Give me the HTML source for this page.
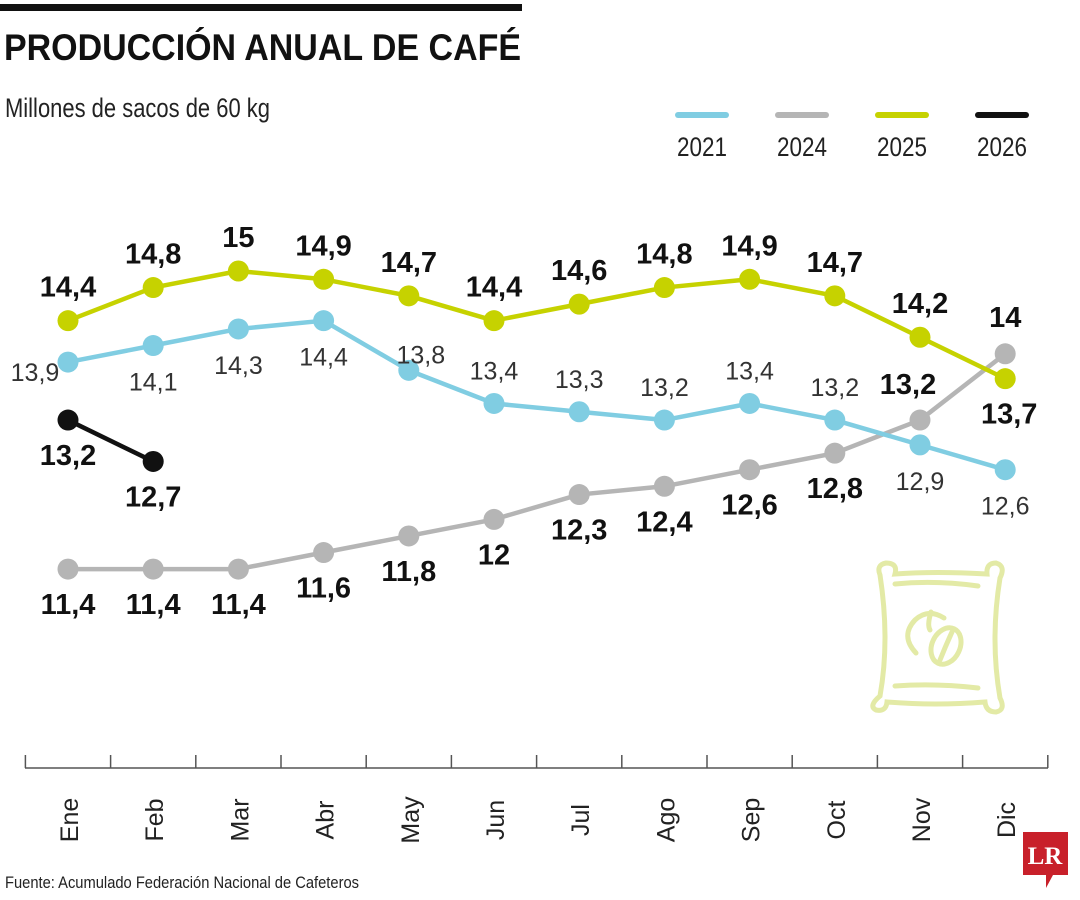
<!DOCTYPE html>
<html><head><meta charset="utf-8">
<style>
html,body{margin:0;padding:0;background:#fff;}
svg{display:block;font-family:"Liberation Sans Narrow","Liberation Sans",sans-serif;}
</style></head>
<body>
<svg id="chart" width="1080" height="900" viewBox="0 0 1080 900">
  <rect x="0" y="4" width="522" height="7" fill="#111"/>
  <text x="4" y="60" font-family="Liberation Sans" font-weight="bold" font-size="37" textLength="517" lengthAdjust="spacingAndGlyphs" fill="#111">PRODUCCIÓN ANUAL DE CAFÉ</text>
  <text x="5" y="117" font-size="27" textLength="265" lengthAdjust="spacingAndGlyphs" fill="#222">Millones de sacos de 60 kg</text>
  <g id="legend"></g>
  <g id="axis"></g>
  <g id="series"></g>
  <g fill="none" stroke="#e3eaa6" stroke-width="5" stroke-linecap="round">
    <path d="M880,575 Q876,565 886,563 Q898,563 895,574 Q935,571 987,574 Q986,563 996,563 Q1006,566 1000,578 Q990,640 1000,698 Q1006,710 996,712 Q986,712 985,702 Q935,706 887,702 Q886,712 876,710 Q868,706 880,696 Q890,640 880,575 Z"/>
    <path d="M895,584 Q935,580 978,586"/><path d="M895,686 Q935,683 978,688"/>
    <path d="M916,653 Q900,636 915,620 Q928,608 944,618"/>
    <ellipse cx="946" cy="646" rx="14" ry="19" transform="rotate(25 946 646)"/>
    <path d="M931,612 Q927,625 930,630"/><path d="M940,660 Q946,645 952,632"/>
  </g>
  <text x="5" y="888" font-size="17" textLength="354" lengthAdjust="spacingAndGlyphs" fill="#222">Fuente: Acumulado Federación Nacional de Cafeteros</text>
  <g>
    <path d="M1023,832 L1068,832 L1068,875 L1053,875 L1046,888 L1046,875 L1023,875 Z" fill="#c8202a"/>
    <text x="1045" y="864" text-anchor="middle" font-family="Liberation Serif" font-weight="bold" font-size="25" fill="#fff">LR</text>
  </g>
</svg>
<script>
const months = ["Ene","Feb","Mar","Abr","May","Jun","Jul","Ago","Sep","Oct","Nov","Dic"];
const years = ["2021","2024","2025","2026"];
const values2021 = [13.9,14.1,14.3,14.4,13.8,13.4,13.3,13.2,13.4,13.2,12.9,12.6];
const values2024 = [11.4,11.4,11.4,11.6,11.8,12,12.3,12.4,12.6,12.8,13.2,14];
const values2025 = [14.4,14.8,15,14.9,14.7,14.4,14.6,14.8,14.9,14.7,14.2,13.7];
const values2026 = [13.2,12.7];
const labels2021 = ["13,9","14,1","14,3","14,4","13,8","13,4","13,3","13,2","13,4","13,2","12,9","12,6"];
const labels2024 = ["11,4","11,4","11,4","11,6","11,8","12","12,3","12,4","12,6","12,8","13,2","14"];
const labels2025 = ["14,4","14,8","15","14,9","14,7","14,4","14,6","14,8","14,9","14,7","14,2","13,7"];
const labels2026 = ["13,2","12,7"];

const NS="http://www.w3.org/2000/svg";
const x = i => 68 + i*85.2;
const y = v => 271 + (15 - v)*82.8;
function mk(tag, attrs, parent){const e=document.createElementNS(NS,tag);for(const k in attrs)e.setAttribute(k,attrs[k]);parent.appendChild(e);return e;}

const axis=document.getElementById('axis');
const ax=mk('line',{x1:25,y1:768,x2:1048,y2:768,stroke:'#555','stroke-width':1.5},axis);


for(let i=0;i<=months.length;i++){
  const t=mk('line',{x1:x(i)-42.6,y1:755,x2:x(i)-42.6,y2:768,stroke:'#555','stroke-width':1.5},axis);
  
  
}
months.forEach((m,i)=>{
  const t=mk('text',{x:0,y:0,transform:`translate(${x(i)+10},820) rotate(-90)`,'text-anchor':'middle','font-size':25,fill:'#222'},axis);
  t.textContent=m;
  
  
});

const colors={"2021":"#80cde2","2024":"#b5b5b5","2025":"#c6d200","2026":"#111"};
const leg=document.getElementById('legend');
years.forEach((yr,i)=>{
  const lx=701+i*100;
  const l=mk('line',{x1:lx-23,y1:115,x2:lx+25,y2:115,stroke:colors[yr],'stroke-width':6,'stroke-linecap':'round'},leg);
  
  
  const t=mk('text',{x:lx+1,y:156,'text-anchor':'middle','font-size':27,fill:'#222',textLength:50,lengthAdjust:'spacingAndGlyphs'},leg);
  t.textContent=yr;
  
  
});

const A=[0,-33], B=[0,36];
const off2021=[[-33,10],B,B,B,[12,-16],A,A,A,A,A,B,B];
const off2024=[B,B,B,B,B,B,B,B,B,B,[-12,-35],[0,-36]];
const off2025=[A,A,A,A,A,A,A,A,A,A,A,[4,36]];
const off2026=[B,B];

const sg=document.getElementById('series');
function drawSeries(name,vals,labs,offs,bold){
  const g=mk('g',{},sg);
  
  
  const pts=vals.map((v,i)=>x(i)+','+y(v)).join(' ');
  const pl=mk('polyline',{points:pts,fill:'none',stroke:colors[name],'stroke-width':4.5,'stroke-linejoin':'round'},g);
  
  
  vals.forEach((v,i)=>{
    const c=mk('circle',{cx:x(i),cy:y(v),r:10.5,fill:colors[name]},g);
    
    
  });
  vals.forEach((v,i)=>{
    const o=offs[i];
    const t=mk('text',{x:x(i)+o[0],y:y(v)+o[1]+9,'text-anchor':'middle','font-size':bold?29:25,'font-weight':bold?'bold':'normal',fill:bold?'#111':'#333'},g);
    t.textContent=labs[i];
    
    
  });
}
drawSeries("2024",values2024,labels2024,off2024,true);
drawSeries("2021",values2021,labels2021,off2021,false);
drawSeries("2025",values2025,labels2025,off2025,true);
drawSeries("2026",values2026,labels2026,off2026,true);
</script>
</body></html>
